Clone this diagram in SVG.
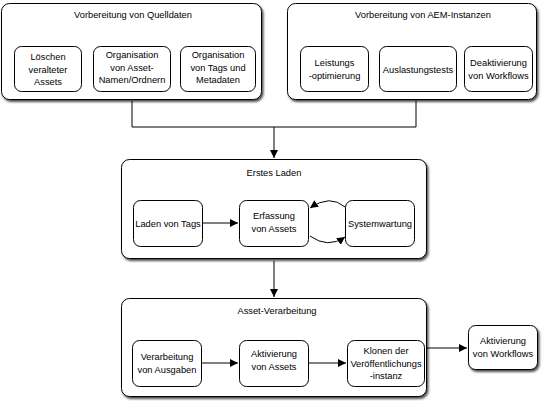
<svg xmlns="http://www.w3.org/2000/svg" width="550" height="402" viewBox="0 0 550 402">
<defs>
<filter id="sh" x="-10%" y="-10%" width="120%" height="130%">
<feDropShadow dx="1.5" dy="2" stdDeviation="1.2" flood-color="#000" flood-opacity="0.7"/>
</filter>
<marker id="ah" viewBox="0 0 10 10" refX="10" refY="5" markerWidth="8" markerHeight="8" markerUnits="userSpaceOnUse" orient="auto">
<path d="M0,0 L10,5 L0,10 z" fill="#000"/>
</marker>
<style>
.outer{fill:#fff;stroke:#000;stroke-width:1;filter:url(#sh)}
.inner{fill:#fff;stroke:#000;stroke-width:1}
text{font-family:"Liberation Sans",Arial,sans-serif;font-size:9.3px;fill:#000;text-anchor:middle}
.c{fill:none;stroke:#000;stroke-width:1}
</style>
</defs>
<rect width="550" height="402" fill="#fff"/>
<g id="quelldaten">
<rect class="outer" x="1.5" y="3.5" width="260" height="96" rx="8"/>
<text x="133" y="18">Vorbereitung von Quelldaten</text>
</g>
<g id="loeschen">
<rect class="inner" x="14.5" y="46.5" width="67" height="45" rx="7"/>
<text x="48" y="60">Löschen</text><text x="48" y="72.5">veralteter</text><text x="48" y="85">Assets</text>
</g>
<g id="org-namen">
<rect class="inner" x="93.5" y="46.5" width="77" height="45" rx="7"/>
<text x="132" y="58">Organisation</text><text x="132" y="70.5">von Asset-</text><text x="132" y="83">Namen/Ordnern</text>
</g>
<g id="org-tags">
<rect class="inner" x="180.5" y="46.5" width="75" height="45" rx="7"/>
<text x="218" y="58">Organisation</text><text x="218" y="70.5">von Tags und</text><text x="218" y="83">Metadaten</text>
</g>
<g id="aem">
<rect class="outer" x="287.5" y="3.5" width="249" height="96" rx="8"/>
<text x="423" y="18">Vorbereitung von AEM-Instanzen</text>
</g>
<g id="leistung">
<rect class="inner" x="300.5" y="46.5" width="68" height="45" rx="7"/>
<text x="334.5" y="66">Leistungs</text><text x="334.5" y="78.5">-optimierung</text>
</g>
<g id="auslastung">
<rect class="inner" x="379.5" y="46.5" width="77" height="45" rx="7"/>
<text x="418" y="72.5">Auslastungstests</text>
</g>
<g id="deaktivierung">
<rect class="inner" x="464.5" y="46.5" width="68" height="45" rx="7"/>
<text x="498.5" y="66">Deaktivierung</text><text x="498.5" y="78.5">von Workflows</text>
</g>
<g id="erstes-laden">
<rect class="outer" x="121.5" y="159.5" width="305" height="99" rx="8"/>
<text x="274" y="176">Erstes Laden</text>
</g>
<g id="laden-tags">
<rect class="inner" x="133.5" y="200.5" width="69" height="46" rx="7"/>
<text x="168" y="226.5">Laden von Tags</text>
</g>
<g id="erfassung">
<rect class="inner" x="239.5" y="200.5" width="69" height="46" rx="7"/>
<text x="274" y="219">Erfassung</text><text x="274" y="231.5">von Assets</text>
</g>
<g id="systemwartung">
<rect class="inner" x="345.5" y="200.5" width="69" height="46" rx="7"/>
<text x="380" y="226.5">Systemwartung</text>
</g>
<g id="asset-verarbeitung">
<rect class="outer" x="121.5" y="298.5" width="305" height="98" rx="8"/>
<text x="277" y="314">Asset-Verarbeitung</text>
</g>
<g id="ausgaben">
<rect class="inner" x="132.5" y="340.5" width="69" height="46" rx="7"/>
<text x="167" y="360">Verarbeitung</text><text x="167" y="372.5">von Ausgaben</text>
</g>
<g id="aktivierung-assets">
<rect class="inner" x="239.5" y="340.5" width="69" height="46" rx="7"/>
<text x="274" y="357">Aktivierung</text><text x="274" y="369.5">von Assets</text>
</g>
<g id="klonen">
<rect class="inner" x="347.5" y="340.5" width="77" height="46" rx="7"/>
<text x="386" y="354">Klonen der</text><text x="386" y="366.5">Veröffentlichungs</text><text x="386" y="379">-instanz</text>
</g>
<g id="aktivierung-workflows">
<rect class="outer" x="468.5" y="325.5" width="69" height="44" rx="7"/>
<text x="503" y="344">Aktivierung</text><text x="503" y="356.5">von Workflows</text>
</g>
<g id="connectors">
<path class="c" d="M132,101 V127 H416 V101"/>
<path class="c" d="M274,127 V158" marker-end="url(#ah)"/>
<path class="c" d="M203,223 H238" marker-end="url(#ah)"/>
<path class="c" d="M345,207 Q330,194 310,208" marker-end="url(#ah)"/>
<path class="c" d="M310,236 Q328,249 345,237" marker-end="url(#ah)"/>
<path class="c" d="M274,261 V297" marker-end="url(#ah)"/>
<path class="c" d="M202,363 H238" marker-end="url(#ah)"/>
<path class="c" d="M309,363 H346" marker-end="url(#ah)"/>
<path class="c" d="M427,348 H467" marker-end="url(#ah)"/>
</g>
</svg>
